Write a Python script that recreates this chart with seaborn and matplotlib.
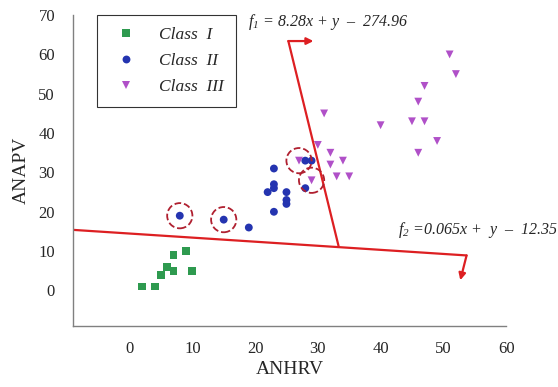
import numpy as np
import pandas as pd
import matplotlib
matplotlib.use("Agg")
import matplotlib.pyplot as plt
import seaborn as sns

# --- data ---
class1_x = [2, 4, 5, 6, 7, 7, 9, 10]
class1_y = [1, 1, 4, 6, 5, 9, 10, 5]

class2_x = [8, 15, 19, 22, 23, 23, 23, 23, 25, 25, 25, 28, 29, 28]
class2_y = [19, 18, 16, 25, 31, 27, 26, 20, 25, 23, 22, 33, 33, 26]

class3_x = [51, 52, 47, 46, 45, 47, 40, 49, 46, 31, 30, 32, 32, 34, 33, 35, 27, 29]
class3_y = [60, 55, 52, 48, 43, 43, 42, 38, 35, 45, 37, 35, 32, 33, 29, 29, 33, 28]

# points marked as misclassified (dashed circles)
circled_x = [8, 15, 27, 29]
circled_y = [19, 18, 33, 28]

# discriminant lines (as drawn) and their arrows
f1_x = [25.3, 33.3]
f1_y = [63.4, 11.3]
f1_arrow_end = (29.3, 63.4)
f2_x = [-9, 53.7]
f2_y = [15.4, 8.9]
f2_arrow_end = (52.7, 2.6)

f1_label = r"$f_1$ = 8.28x + y  –  274.96"
f2_label = r"$f_2$ =0.065x +  y  –  12.35"

x_ticks = [0, 10, 20, 30, 40, 50, 60]
y_ticks = [0, 10, 20, 30, 40, 50, 60, 70]

df = pd.DataFrame({
    "ANHRV": class1_x + class2_x + class3_x,
    "ANAPV": class1_y + class2_y + class3_y,
    "cls": ["Class  I"] * len(class1_x) + ["Class  II"] * len(class2_x) + ["Class  III"] * len(class3_x),
})

sns.set_style("white")
plt.rcParams["font.family"] = ["Liberation Serif", "DejaVu Serif"]
plt.rcParams["mathtext.fontset"] = "custom"
plt.rcParams["mathtext.rm"] = "Liberation Serif:italic"
plt.rcParams["mathtext.it"] = "Liberation Serif:italic"

fig = plt.figure(figsize=(5.58, 3.87), dpi=100)
ax = fig.add_axes([0.131, 0.158, 0.776, 0.803])

red = "#dd1f22"
ax.plot(f2_x, f2_y, color=red, lw=1.6, zorder=2)
ax.plot(f1_x, f1_y, color=red, lw=1.6, zorder=2)
ax.annotate("", xy=f1_arrow_end, xytext=(f1_x[0], f1_y[0]),
            arrowprops=dict(arrowstyle="-|>", color=red, lw=1.6, mutation_scale=10,
                            shrinkA=0, shrinkB=0))
ax.annotate("", xy=f2_arrow_end, xytext=(f2_x[1], f2_y[1]),
            arrowprops=dict(arrowstyle="-|>", color=red, lw=1.6, mutation_scale=10,
                            shrinkA=0, shrinkB=0))

palette = {"Class  I": "#2e9a4f", "Class  II": "#2434b0", "Class  III": "#b050c8"}
markers = {"Class  I": "s", "Class  II": "o", "Class  III": "v"}
sns.scatterplot(data=df, x="ANHRV", y="ANAPV", hue="cls", style="cls",
                palette=palette, markers=markers, s=32, linewidth=0, ax=ax, zorder=3)

ax.scatter(circled_x, circled_y, s=330, facecolors="none", edgecolors="#b02030",
           linestyles="--", linewidths=1.3, zorder=4)

ax.text(18.9, 68.2, f1_label, fontsize=11.5, style="italic", va="center", ha="left", clip_on=False)
ax.text(42.7, 15.3, f2_label, fontsize=11.5, style="italic", va="center", ha="left", clip_on=False)

ax.set_xlim(-9, 60)
ax.set_ylim(-9, 70)
ax.set_xticks(x_ticks)
ax.set_yticks(y_ticks)
ax.tick_params(axis="both", direction="out", length=4, width=1, color="#808080",
               labelsize=12)
ax.tick_params(axis="y", pad=9)
ax.tick_params(axis="x", pad=7)
for side in ["top", "right"]:
    ax.spines[side].set_visible(False)
for side in ["left", "bottom"]:
    ax.spines[side].set_color("#808080")
    ax.spines[side].set_linewidth(1)

ax.set_xlabel("ANHRV", fontsize=14, labelpad=3)
ax.set_ylabel("ANAPV", fontsize=14, labelpad=6)

leg = ax.legend(loc="upper left", bbox_to_anchor=(0.055, 1.0), borderaxespad=0,
                frameon=True, fancybox=False,
                prop={"style": "italic", "size": 12.5}, handletextpad=0.9, borderpad=0.7,
                labelspacing=0.55, markerscale=1.0, handlelength=2.0)
leg.get_frame().set_edgecolor("black")
leg.get_frame().set_linewidth(0.8)

fig.savefig("out.png", dpi=100)
